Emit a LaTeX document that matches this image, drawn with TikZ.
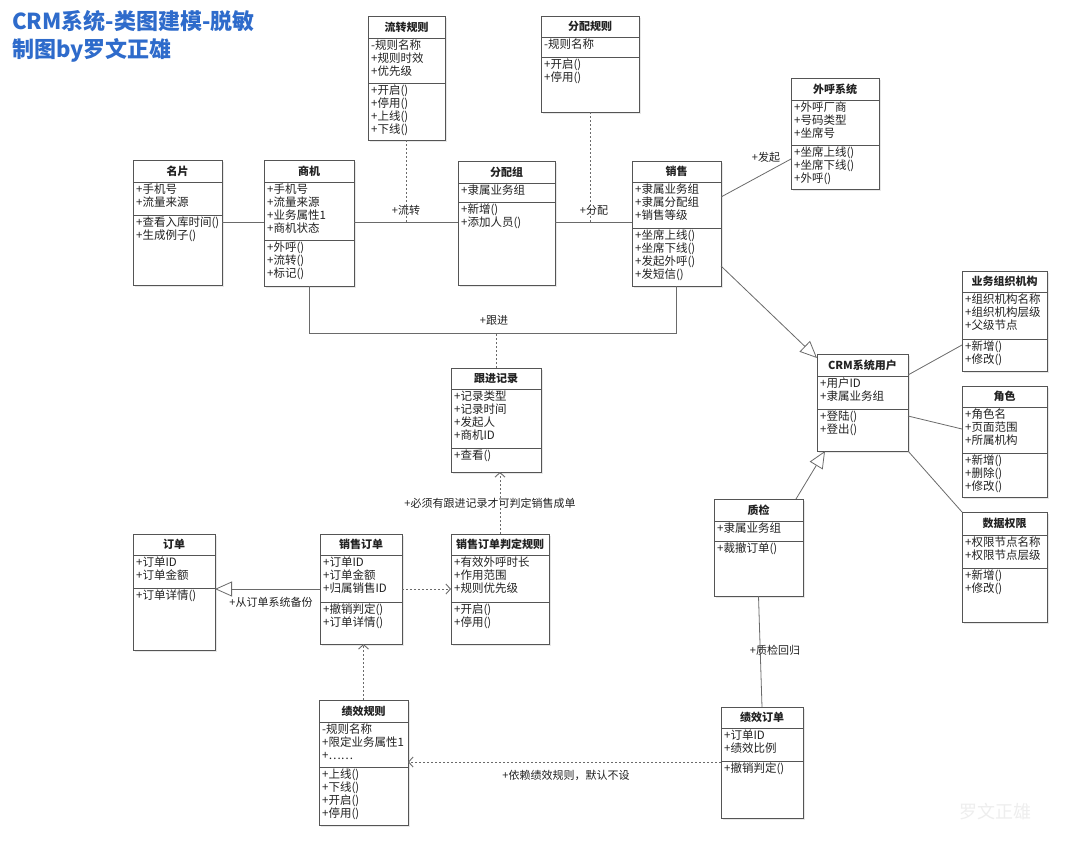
\documentclass[tikz,border=0pt]{standalone}
\usepackage{fontspec}
\setmainfont{Noto Sans CJK SC}
\usetikzlibrary{arrows.meta,shadows,calc}
\definecolor{ttl}{HTML}{2E6BCB}
\definecolor{edge}{HTML}{555555}
\definecolor{wire}{HTML}{6A6A6A}
\definecolor{txt}{HTML}{222222}

\tikzset{
 clsbox/.style={draw=edge, fill=white, line width=0.8pt, inner sep=0pt, outer sep=0pt,
   drop shadow={opacity=0.18,shadow xshift=2pt,shadow yshift=-2pt}},
 sepline/.style={draw=edge, line width=0.8pt},
 clstitle/.style={font=\bfseries\fontsize{11}{13}\selectfont, inner sep=0pt, text=txt},
 clstext/.style={font=\fontsize{11.5}{13}\selectfont, align=left, anchor=north west, inner sep=1pt, text=txt},
 assoc/.style={draw=wire, line width=0.8pt},
 dep/.style={draw=wire, line width=0.9pt, dash pattern=on 2pt off 2pt},
 deparrow/.style={dep, -{Straight Barb[length=4.5pt,width=10pt]}},
 genarrow/.style={assoc, -{Triangle[open,length=17pt,width=15pt,fill=white]}},
 lbl/.style={font=\fontsize{11}{13}\selectfont, inner sep=1pt, text=txt},
}

\newcommand\umlcls[7]{\def\cN{#1}\def\cXa{#2}\def\cYa{#3}\def\cXb{#4}\def\cYb{#5}\def\cSa{#6}\def\cSb{#7}\umlclsrest}
\newcommand\umlclsrest[3]{%
  \node[clsbox, minimum width={\cXb-\cXa}, minimum height={\cYb-\cYa}, anchor=north west] (\cN) at (\cXa,\cYa) {};
  \draw[sepline] (\cXa,\cSa) -- (\cXb,\cSa) (\cXa,\cSb) -- (\cXb,\cSb);
  \node[clstitle] (\cN-t) at ({(\cXa+\cXb)/2},{(\cYa+\cSa)/2}) {#1};
  \node[clstext] (\cN-a) at (\cXa+2,\cSa+1) {#2};
  \node[clstext] (\cN-m) at (\cXa+2,\cSb+1) {#3};
}

\begin{document}
\begin{tikzpicture}[x=1pt,y=-1pt]
\fill[white] (0,0) rectangle (1080,860);
\useasboundingbox (0,0) rectangle (1080,860);

\node[anchor=north west, align=left, text=ttl, inner sep=0pt,
  font=\bfseries\fontsize{22}{28}\selectfont] (title) at (12,10)
  {CRM系统-类图建模-脱敏\\制图by罗文正雄};

% classes
\umlcls{mp}{133}{160}{222}{285}{182}{215}{名片}{+手机号\\+流量来源}{+查看入库时间()\\+生成例子()}
\umlcls{sj}{264}{160}{354}{286}{182}{240}{商机}{+手机号\\+流量来源\\+业务属性1\\+商机状态}{+外呼()\\+流转()\\+标记()}
\umlcls{lz}{368}{16}{445}{140}{38}{83}{流转规则}{-规则名称\\+规则时效\\+优先级}{+开启()\\+停用()\\+上线()\\+下线()}
\umlcls{fpgz}{541}{16}{639}{112}{37}{57}{分配规则}{-规则名称}{+开启()\\+停用()}
\umlcls{fpz}{458}{161}{555}{285}{183}{202}{分配组}{+隶属业务组}{+新增()\\+添加人员()}
\umlcls{xs}{632}{161}{721}{286}{182}{228}{销售}{+隶属业务组\\+隶属分配组\\+销售等级}{+坐席上线()\\+坐席下线()\\+发起外呼()\\+发短信()}
\umlcls{wh}{791}{78}{879}{189}{100}{145}{外呼系统}{+外呼厂商\\+号码类型\\+坐席号}{+坐席上线()\\+坐席下线()\\+外呼()}
\umlcls{crm}{817}{354}{908}{451}{376}{409}{CRM系统用户}{+用户ID\\+隶属业务组}{+登陆()\\+登出()}
\umlcls{org}{962}{271}{1047}{371}{292}{339}{业务组织机构}{+组织机构名称\\+组织机构层级\\+父级节点}{+新增()\\+修改()}
\umlcls{role}{962}{386}{1047}{497}{407}{453}{角色}{+角色名\\+页面范围\\+所属机构}{+新增()\\+删除()\\+修改()}
\umlcls{dp}{962}{512}{1047}{622}{535}{568}{数据权限}{+权限节点名称\\+权限节点层级}{+新增()\\+修改()}
\umlcls{gj}{451}{368}{541}{472}{389}{448}{跟进记录}{+记录类型\\+记录时间\\+发起人\\+商机ID}{+查看()}
\umlcls{dd}{133}{534}{215}{650}{555}{588}{订单}{+订单ID\\+订单金额}{+订单详情()}
\umlcls{xsdd}{320}{534}{402}{644}{555}{602}{销售订单}{+订单ID\\+订单金额\\+归属销售ID}{+撤销判定()\\+订单详情()}
\umlcls{pdgz}{451}{534}{549}{644}{555}{602}{销售订单判定规则}{+有效外呼时长\\+作用范围\\+规则优先级}{+开启()\\+停用()}
\umlcls{zj}{714}{499}{803}{596}{521}{541}{质检}{+隶属业务组}{+裁撤订单()}
\umlcls{jxgz}{319}{700}{408}{825}{722}{767}{绩效规则}{-规则名称\\+限定业务属性1\\+……}{+上线()\\+下线()\\+开启()\\+停用()}
\umlcls{jxdd}{721}{707}{803}{818}{728}{761}{绩效订单}{+订单ID\\+绩效比例}{+撤销判定()}

% helper levels
\coordinate (h1) at (0,222);
\coordinate (h2) at (0,333);
\coordinate (h3) at (0,589);
\coordinate (h4) at (0,762);

% connectors
\draw[assoc] (mp.east |- h1) -- (sj.west |- h1);
\draw[assoc] (sj.east |- h1) -- (fpz.west |- h1);
\draw[assoc] (fpz.east |- h1) -- (xs.west |- h1);
\draw[dep] (lz.south) -- (lz.south |- h1);
\draw[dep] (fpgz.south) -- (fpgz.south |- h1);
\node[lbl] (l-lz) at (406,210) {+流转};
\node[lbl] (l-fp) at (594,210) {+分配};

\draw[assoc] ([yshift=26.5pt]xs.east) -- ([yshift=-25.5pt]wh.west);
\node[lbl] (l-fq) at (766,157) {+发起};

\draw[assoc] (sj.south) |- (xs.south |- h2) -- (xs.south);
\draw[dep] (gj.north) -- (gj.north |- h2);
\node[lbl] (l-gj) at (494,320) {+跟进};

\draw[genarrow] ([yshift=-42.5pt]xs.east) -- ([yshift=-4pt]crm.north west);
\draw[genarrow] ([xshift=-7pt]zj.north east) -- ([xshift=8pt]crm.south west);
\draw[assoc] ([yshift=27.5pt]crm.east) -- ([yshift=-24pt]org.west);
\draw[assoc] ([yshift=-13.5pt]crm.east) -- ([yshift=12.5pt]role.west);
\draw[assoc] (crm.south east) -- (dp.north west);

\draw[genarrow] (xsdd.west |- h3) -- (dd.east |- h3);
\node[lbl] (l-bf) at (271,602) {+从订单系统备份};
\draw[deparrow] (xsdd.east |- h3) -- (pdgz.west |- h3);
\draw[deparrow] (pdgz.north) -- (pdgz.north |- gj.south);
\node[lbl] (l-pd) at (490,503) {+必须有跟进记录才可判定销售成单};

\draw[assoc] (zj.south) -- (jxdd.north);
\node[lbl] (l-zj) at (775,650) {+质检回归};
\draw[deparrow] (jxdd.west |- h4) -- (jxgz.east |- h4);
\node[lbl] (l-yl) at (566,775) {+依赖绩效规则，默认不设};
\draw[deparrow] (jxgz.north) -- (jxgz.north |- xsdd.south);

\node[text=gray!13, font=\fontsize{18}{20}\selectfont] (wm) at (995,812) {罗文正雄};
\end{tikzpicture}
\end{document}
